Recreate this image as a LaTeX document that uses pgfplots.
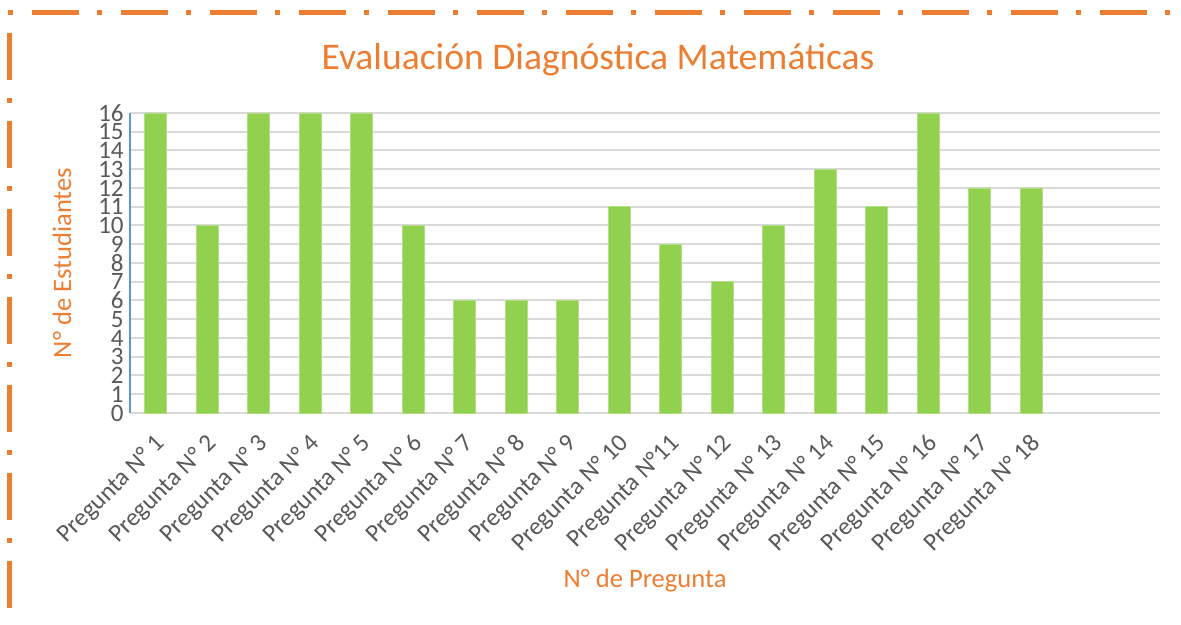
\documentclass[border=0pt]{standalone}
\usepackage{pgfplots}
\pgfplotsset{compat=1.18}
\usepackage{fontspec}
\setmainfont{Carlito}
\definecolor{barg}{HTML}{92D050}
\definecolor{orng}{HTML}{ED7D31}
\definecolor{txtg}{HTML}{595959}
\definecolor{gridg}{HTML}{D9D9D9}
\definecolor{axb}{HTML}{5B9BD5}
\begin{document}
\begin{tikzpicture}
\useasboundingbox (-65pt,-106pt) rectangle (525.5pt,206.5pt);
\begin{axis}[
  at={(0pt,0pt)}, anchor=south west,
  scale only axis, width=515pt, height=150pt,
  xmin=-0.5, xmax=19.5, ymin=0, ymax=16,
  ytick={0,...,16},
  xtick={0,...,17},
  xticklabels={Pregunta N° 1,Pregunta N° 2,Pregunta N° 3,Pregunta N° 4,Pregunta N° 5,Pregunta N° 6,Pregunta N° 7,Pregunta N° 8,Pregunta N° 9,Pregunta N° 10,Pregunta N°11,Pregunta N° 12,Pregunta N° 13,Pregunta N° 14,Pregunta N° 15,Pregunta N° 16,Pregunta N° 17,Pregunta N° 18},
  major tick length=0pt,
  ymajorgrids, grid style={gridg, line width=1pt},
  axis lines*=left,
  x axis line style={gridg, line width=1pt},
  y axis line style={axb, line width=0.6pt},
  /pgf/number format/assume math mode=true,
  yticklabel style={font=\fontsize{12.5}{12.5}\selectfont, text=txtg, inner sep=1pt, xshift=-2pt},
  xticklabel style={font=\fontsize{12.5}{12.5}\selectfont, text=txtg, rotate=45, anchor=east, inner sep=1pt, yshift=-11.5pt, xshift=-6.5pt},
  ybar, bar width=11pt,
  clip=false,
]
\addplot[fill=barg, draw=barg!70!white, line width=0.4pt] coordinates {
(0,16) (1,10) (2,16) (3,16) (4,16) (5,10) (6,6) (7,6) (8,6) (9,11)
(10,9) (11,7) (12,10) (13,13) (14,11) (15,16) (16,12) (17,12)
};
\end{axis}
\node[font=\fontsize{18.8}{18.8}\selectfont, text=orng] at (234pt,176.5pt) {Evaluación Diagnóstica Matemáticas};
\node[font=\fontsize{13.3}{13.3}\selectfont, text=orng, rotate=90] at (-34pt,75pt) {N° de Estudiantes};
\node[font=\fontsize{13.3}{13.3}\selectfont, text=orng] at (257.5pt,-84pt) {N° de Pregunta};
\draw[orng, line width=2.5pt, line cap=butt, dash pattern=on 2.5pt off 9.5pt on 23.5pt off 9pt] (-61pt,200pt) -- (525.5pt,200pt);
\draw[orng, line width=2.5pt, line cap=butt, dash pattern=on 23.5pt off 9pt on 2.5pt off 9pt] (-60pt,190pt) -- (-60pt,-106pt);
\end{tikzpicture}
\end{document}
